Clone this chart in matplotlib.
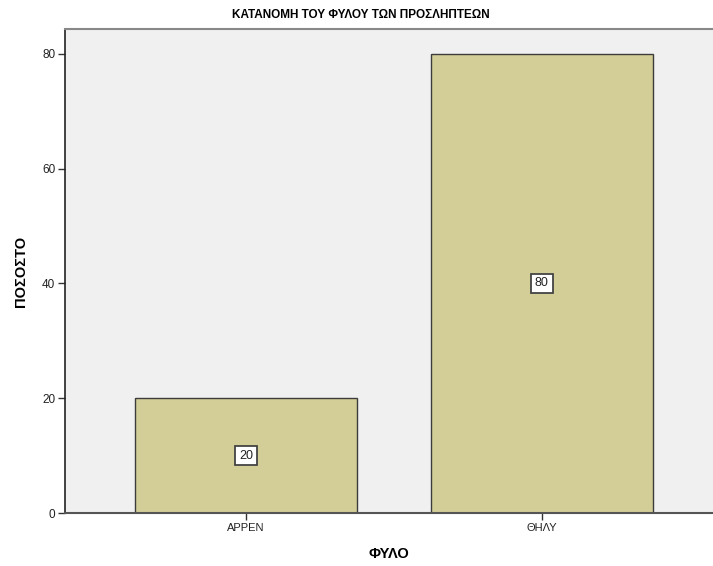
import matplotlib
matplotlib.use('Agg')
import matplotlib.pyplot as plt

# data
categories = ['ΑΡΡΕΝ', 'ΘΗΛΥ']
percent = [20, 80]

title = 'ΚΑΤΑΝΟΜΗ ΤΟΥ ΦΥΛΟΥ ΤΩΝ ΠΡΟΣΛΗΠΤΕΩΝ'
x_label = 'ΦΥΛΟ'
y_label = 'ΠΟΣΟΣΤΟ'

plt.rcParams['font.family'] = ['Liberation Sans', 'DejaVu Sans']

bar_color = '#D3CE98'
bg_color = '#F0F0F0'

fig = plt.figure(figsize=(7.13, 5.66), dpi=100)
fig.patch.set_facecolor('white')
ax = fig.add_axes([65 / 713, 53 / 566, 648 / 713, 484 / 566])
ax.set_facecolor(bg_color)

pos = list(range(len(categories)))
ax.bar(pos, percent, width=0.75, color=bar_color, edgecolor='#3C3C3C', linewidth=1.0, zorder=2)

for p, v in zip(pos, percent):
    ax.text(p, v / 2, str(v), ha='center', va='center', fontsize=9, color='#222222', zorder=3,
            bbox=dict(boxstyle='square,pad=0.3', facecolor='white', edgecolor='#444444', linewidth=1.3))

ax.set_xlim(-0.611, 1.578)
ax.set_ylim(0, 84.3)
ax.set_xticks(pos)
ax.set_xticklabels(categories, fontsize=8, color='#222222')
ax.set_yticks([0, 20, 40, 60, 80])
ax.set_yticklabels(['0', '20', '40', '60', '80'], fontsize=8.5, color='#222222')
ax.tick_params(axis='both', length=5, width=1, color='#333333', pad=2)

ax.spines['right'].set_visible(False)
ax.spines['left'].set_color('#222222')
ax.spines['left'].set_linewidth(1.2)
ax.spines['bottom'].set_color('#555555')
ax.spines['bottom'].set_linewidth(1.5)
ax.spines['top'].set_color('#888888')
ax.spines['top'].set_linewidth(1.5)

ax.set_xlabel(x_label, fontsize=10.5, fontweight='bold', labelpad=10)
ax.set_ylabel(y_label, fontsize=10.5, fontweight='bold', labelpad=10)
fig.text(361 / 713, 1 - 15 / 566, title, ha='center', va='center', fontsize=8.5, fontweight='bold',
         family=['Liberation Sans Narrow', 'Liberation Sans', 'DejaVu Sans'])

fig.savefig('out.png', dpi=100)
